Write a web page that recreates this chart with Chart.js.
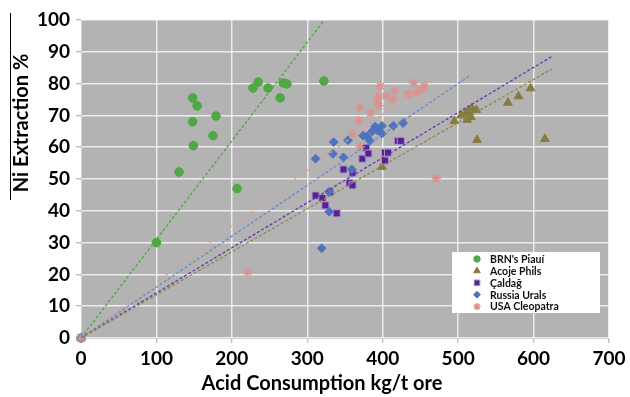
<!DOCTYPE html>
<html>
<head>
<meta charset="utf-8">
<script src="https://cdn.jsdelivr.net/npm/chart.js@4.4.1/dist/chart.umd.min.js"></script>
<style>
  html, body { margin: 0; padding: 0; background: #fff; }
  #wrap { width: 630px; height: 397px; position: relative; }
</style>
</head>
<body>
<div id="wrap"><canvas id="chart"></canvas></div>
<script>
// values
const seriesNames = ["BRN's Piauí", "Acoje Phils", "Çaldağ", "Russia Urals", "USA Cleopatra"];

const piauiX = [0, 100, 130, 148, 148, 149, 154, 175, 179, 207, 228, 235, 248, 264, 268, 273, 322];
const piauiY = [0, 30, 52.2, 68, 75.5, 60.5, 73, 63.6, 69.8, 47, 78.6, 80.5, 78.6, 75.5, 80.2, 79.9, 80.8];

const acojeX = [0, 399, 495, 504, 510, 512, 513, 517, 518, 524, 525, 566, 580, 596, 615];
const acojeY = [0, 53.8, 68.2, 70, 70.7, 68.6, 71.4, 69.5, 72.3, 71.7, 62.3, 74, 76, 78.5, 62.6];

const caldagX = [0, 311, 320, 330, 324, 339, 348, 356, 360, 360, 373, 378, 381, 403, 407, 403, 420, 424];
const caldagY = [0, 44.8, 44, 45.8, 41.7, 39.2, 53, 48.7, 48, 52, 56.4, 59.8, 58, 58.3, 58.3, 55.8, 62, 62];

const uralsX = [0, 319, 329, 329, 311, 335, 334, 348, 354, 359, 374, 379, 383, 386, 390, 393, 399, 399, 414, 427];
const uralsY = [0, 28.2, 39.7, 46, 56.4, 61.6, 57.9, 56.8, 62.2, 53, 63.6, 63.4, 62, 65, 66.5, 65.3, 66.7, 64.3, 66.7, 67.6];

const cleoX = [0, 221, 360, 368, 370, 370, 384, 393, 394, 395, 397, 404, 413, 416, 434, 445, 450, 441, 455, 471];
const cleoY = [0, 20.7, 64.3, 68.4, 72.5, 60.1, 70.7, 74.3, 75.9, 73, 79.2, 76.1, 75.1, 77.6, 76.7, 77.2, 78.1, 80.2, 79.2, 50.2];

// linear trendlines through the origin (slope, and x where each dashed line stops)
const trendSlopes = [0.31, 0.1355, 0.1418, 0.16, 0.176];
const trendEndX = [322, 625, 625, 516, 467];

const xTicks = [0, 100, 200, 300, 400, 500, 600, 700];
const yTicks = [0, 10, 20, 30, 40, 50, 60, 70, 80, 90, 100];

const FONT = "Lato, 'Open Sans', sans-serif";

const looks = [
  { style: 'circle',   fill: '#4ea843', line: '#4ea843', stroke: '#4ea843', r: 4.3, lr: 3.2, bw: 1 },
  { style: 'triangle', fill: '#857d3d', line: '#8f8a48', stroke: '#857d3d', r: 5,   lr: 3.8, bw: 1 },
  { style: 'rect',     fill: '#5a1f95', line: '#6438a8', stroke: '#a898c6', r: 5,   lr: 4,   bw: 1 },
  { style: 'rectRot',  fill: '#4f72c0', line: '#6a86cc', stroke: '#4f72c0', r: 4.4, lr: 3.4, bw: 1 },
  { style: 'star',     fill: '#d9928f', line: '#d9a09c', stroke: '#d9928f', r: 4.6, lr: 3.6, bw: 1.5 }
];

const xs = [piauiX, acojeX, caldagX, uralsX, cleoX];
const ys = [piauiY, acojeY, caldagY, uralsY, cleoY];

const datasets = [];
seriesNames.forEach((name, i) => {
  const lk = looks[i];
  datasets.push({
    label: name,
    data: xs[i].map((x, k) => ({ x, y: ys[i][k] })),
    pointStyle: lk.style,
    pointRadius: lk.r,
    pointBackgroundColor: lk.fill,
    pointBorderColor: lk.stroke,
    pointBorderWidth: lk.bw,
    showLine: false,
    clip: false,
    order: 5 - i
  });
});
seriesNames.forEach((name, i) => {
  const end = trendEndX[i];
  datasets.push({
    label: name + ' trend',
    data: [{ x: 0, y: 0 }, { x: end, y: trendSlopes[i] * end }],
    showLine: true,
    borderColor: looks[i].line,
    borderWidth: 1.3,
    borderDash: [3, 2],
    pointRadius: 0,
    order: 0
  });
});

const plotBg = {
  id: 'plotBg',
  beforeDraw(chart) {
    const { ctx, chartArea: a } = chart;
    ctx.save();
    ctx.fillStyle = '#b3b3b3';
    ctx.fillRect(a.left, a.top, a.right - a.left, a.bottom - a.top);
    ctx.restore();
  }
};

const extras = {
  id: 'extras',
  afterDraw(chart) {
    const ctx = chart.ctx;
    ctx.save();
    // stray frame line left of the y title
    ctx.strokeStyle = '#000';
    ctx.lineWidth = 1;
    ctx.beginPath();
    ctx.moveTo(10.5, 13);
    ctx.lineTo(10.5, 200);
    ctx.stroke();

    // axis titles
    ctx.fillStyle = '#000';
    ctx.font = 'bold 20px ' + FONT;
    ctx.textAlign = 'center';
    ctx.textBaseline = 'middle';
    ctx.fillText('Acid Consumption kg/t ore', 322, 384);
    ctx.save();
    ctx.translate(22, 123);
    ctx.rotate(-Math.PI / 2);
    ctx.fillText('Ni Extraction %', 0, 0);
    ctx.restore();

    // legend box
    ctx.fillStyle = '#fff';
    ctx.fillRect(452, 252, 148, 61);
    ctx.font = 'bold 10.5px ' + FONT;
    ctx.textAlign = 'left';
    seriesNames.forEach((name, i) => {
      const lk = looks[i];
      const y = 259 + i * 11.9;
      ctx.fillStyle = lk.fill;
      ctx.strokeStyle = lk.stroke;
      ctx.lineWidth = lk.bw;
      Chart.helpers.drawPoint(ctx, { pointStyle: lk.style, radius: lk.lr, rotation: 0, borderWidth: lk.bw }, 477, y);
      ctx.fillStyle = '#111';
      ctx.fillText(name, 490, y + 0.5);
    });
    ctx.restore();
  }
};

new Chart(document.getElementById('chart'), {
  type: 'scatter',
  data: { datasets },
  plugins: [plotBg, extras],
  options: {
    responsive: true,
    maintainAspectRatio: false,
    animation: false,
    devicePixelRatio: 1,
    layout: { padding: { top: 20, right: 21, left: 0, bottom: 0 } },
    plugins: { legend: { display: false }, tooltip: { enabled: false } },
    scales: {
      x: {
        type: 'linear',
        min: 0, max: 700,
        afterBuildTicks: s => { s.ticks = xTicks.map(v => ({ value: v })); },
        afterFit: s => { s.height = 59; },
        grid: { color: 'rgba(255,255,255,0.75)', lineWidth: 1.5, tickLength: 5, tickColor: '#a6a6a6', tickWidth: 1 },
        border: { color: '#d0d0d0' },
        ticks: { color: '#000', padding: 4, font: { family: FONT, size: 19, weight: 'bold' }, maxRotation: 0 }
      },
      y: {
        type: 'linear',
        min: 0, max: 100,
        afterBuildTicks: s => { s.ticks = yTicks.map(v => ({ value: v })); },
        afterFit: s => { s.width = 81; },
        grid: { color: 'rgba(255,255,255,0.75)', lineWidth: 1.5, tickLength: 5, tickColor: '#a6a6a6', tickWidth: 1 },
        border: { color: '#d0d0d0' },
        ticks: { color: '#000', padding: 6, font: { family: FONT, size: 19, weight: 'bold' } }
      }
    }
  }
});
</script>
</body>
</html>
